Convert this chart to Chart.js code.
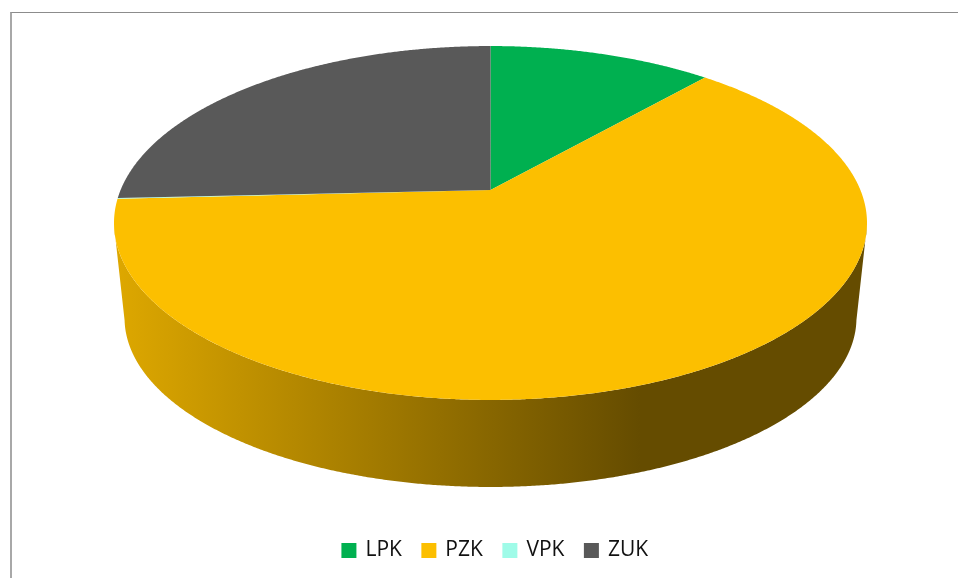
<!DOCTYPE html>
<html>
<head>
<meta charset="utf-8">
<style>
  html, body { margin: 0; padding: 0; background: #fff; overflow: hidden; }
  #frame { position: absolute; left: 10px; top: 12px; width: 948px; height: 566px; border-top: 1px solid #8c8c8c; border-left: 2px solid #a8a8a8; box-sizing: border-box; }
  canvas { position: absolute; left: 0; top: 0; }
</style>
<script src="https://cdn.jsdelivr.net/npm/chart.js@4/dist/chart.umd.min.js"></script>
</head>
<body>
<canvas id="my-chart" width="958" height="578"></canvas>
<div id="frame"></div>
<script>
const categories = ['LPK', 'PZK', 'VPK', 'ZUK']
const shares = [11.5, 62.7, 0.05, 25.75]
const colors = ['#00B050', '#FCBF00', '#9FFBE8', '#595959']

// tilted disc: the pie centre sits above the middle of the ellipse, like a perspective 3D pie
const disc = { x: 490.5, y: 190, a: 369.9, b: 170.8, k: -0.1864 }
const rim = { midY: 223, lowMidY: 318, scaleX: 0.972, scaleY: 0.955 }

function topPoint(angle) {
    const d = 1 + disc.k * Math.sin(angle)
    return [disc.x + disc.a * Math.cos(angle) / d, disc.y + disc.b * Math.sin(angle) / d]
}

function lowPoint(angle) {
    const p = topPoint(angle)
    return [disc.x + (p[0] - disc.x) * rim.scaleX, rim.lowMidY + (p[1] - rim.midY) * rim.scaleY]
}

function shade(hex, f) {
    const n = parseInt(hex.slice(1), 16)
    return `rgb(${(n >> 16) * f}, ${((n >> 8) & 255) * f}, ${(n & 255) * f})`
}

function traceArc(ctx, from, to, fn) {
    const steps = Math.max(2, Math.ceil(Math.abs(to - from) / 0.005))
    for (let i = 0; i <= steps; i++) {
        const p = fn(from + (to - from) * i / steps)
        ctx.lineTo(p[0], p[1])
    }
}

const tiltedPie = {
    id: 'tiltedPie',
    beforeDatasetDraw(chart, args) {
        const ctx = chart.ctx
        const arcs = args.meta.data
        // front wall first, only the part of the rim that faces the viewer
        const frontFrom = Math.asin(0.2)
        const frontTo = Math.PI - frontFrom
        arcs.forEach(arc => {
            const from = Math.max(arc.startAngle, frontFrom)
            const to = Math.min(arc.endAngle, frontTo)
            if (to <= from) return
            const grad = ctx.createLinearGradient(114, 0, 640, 0)
            grad.addColorStop(0, shade(arc.options.backgroundColor, 0.88))
            grad.addColorStop(1, shade(arc.options.backgroundColor, 0.40))
            ctx.beginPath()
            traceArc(ctx, from, to, topPoint)
            traceArc(ctx, to, from, lowPoint)
            ctx.closePath()
            ctx.fillStyle = grad
            ctx.fill()
        })
        arcs.forEach(arc => {
            ctx.beginPath()
            ctx.moveTo(disc.x, disc.y)
            traceArc(ctx, arc.startAngle, arc.endAngle, topPoint)
            ctx.closePath()
            ctx.fillStyle = arc.options.backgroundColor
            ctx.fill()
        })
        return false
    }
}

const fChart = new Chart(document.getElementById('my-chart'), {
    type: 'pie',
    data: {
        labels: categories,
        datasets: [{
            data: shares,
            backgroundColor: colors,
            borderColor: colors,
            borderWidth: 3
        }]
    },
    options: {
        responsive: false,
        animation: false,
        events: [],
        layout: { padding: { left: 33, bottom: 7 } },
        plugins: {
            tooltip: { enabled: false },
            legend: {
                position: 'bottom',
                labels: {
                    boxWidth: 12,
                    boxHeight: 12,
                    padding: 21,
                    color: '#111',
                    font: { family: '"Open Sans"', size: 21 }
                }
            }
        }
    },
    plugins: [tiltedPie]
})
</script>
</body>
</html>
